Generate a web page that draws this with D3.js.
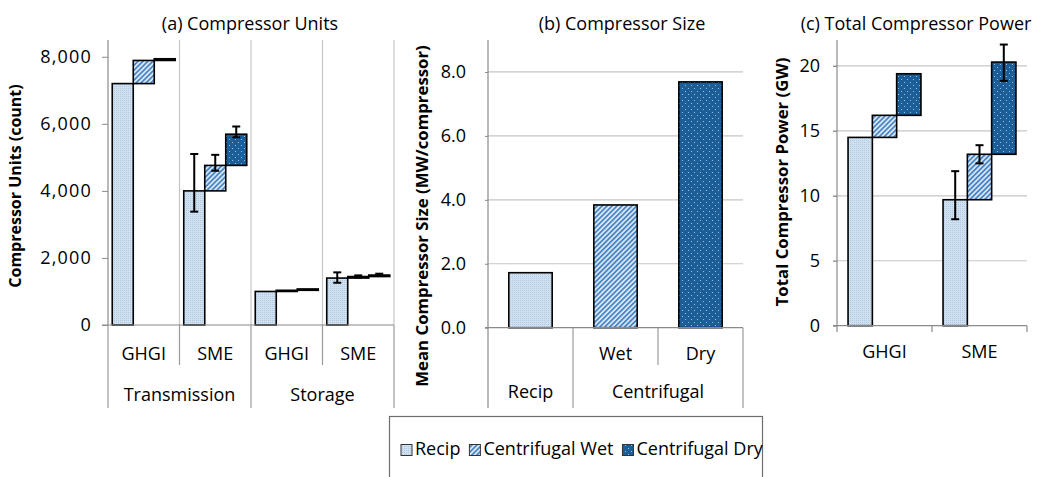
<!DOCTYPE html>
<html><head><meta charset="utf-8">
<script src="https://cdn.jsdelivr.net/npm/d3@7"></script>
<style>
body{margin:0;background:#fff}
svg{display:block}
text{font-family:"Open Sans",sans-serif;fill:#000}
</style>
</head><body>
<svg id="c" width="1037" height="477"></svg>
<script>
// ---------- data ----------
const unitCats = ["GHGI","SME","GHGI","SME"];
const unitGroups = ["Transmission","Storage"];
const unitRecip = [7200,4000,1000,1400];
const unitWet = [690,760,35,45];
const unitDry = [50,930,40,45];
const unitRecipErr = [null,[3380,5100],null,[1260,1570]];
const unitWetErr = [null,[4600,5075],null,[1420,1480]];
const unitDryErr = [null,[5600,5920],null,[1470,1530]];
const unitTicks = [0,2000,4000,6000,8000];

const sizeCats = ["Recip","Wet","Dry"];
const sizeGroups = ["Recip","Centrifugal"];
const sizeVals = [1.72,3.84,7.69];
const sizeTicks = [0,2,4,6,8];

const powerCats = ["GHGI","SME"];
const powerRecip = [14.5,9.7];
const powerWet = [1.7,3.5];
const powerDry = [3.2,7.1];
const powerRecipErr = [null,[8.2,11.9]];
const powerWetErr = [null,[12.5,13.9]];
const powerDryErr = [null,[18.85,21.65]];
const powerTicks = [0,5,10,15,20];

const seriesNames = ["Recip","Centrifugal Wet","Centrifugal Dry"];

// ---------- setup ----------
const svg = d3.select("#c");
const defs = svg.append("defs");
const pR = defs.append("pattern").attr("id","pRecip").attr("patternUnits","userSpaceOnUse").attr("width",2).attr("height",2);
pR.append("rect").attr("width",2).attr("height",2).attr("fill","#cfe0f0");
pR.append("rect").attr("width",1).attr("height",1).attr("fill","#b2c9e0");
const pW = defs.append("pattern").attr("id","pWet").attr("patternUnits","userSpaceOnUse").attr("width",3.5).attr("height",3.5).attr("patternTransform","rotate(45)");
pW.append("rect").attr("width",3.5).attr("height",3.5).attr("fill","#dce9f6");
pW.append("rect").attr("width",1.8).attr("height",3.5).attr("fill","#4a86c5");
const pD = defs.append("pattern").attr("id","pDry").attr("patternUnits","userSpaceOnUse").attr("width",6).attr("height",6);
pD.append("rect").attr("width",6).attr("height",6).attr("fill","#1b5e98");
pD.append("rect").attr("x",1).attr("y",1).attr("width",1).attr("height",1).attr("fill","#9bbcdc");
pD.append("rect").attr("x",4).attr("y",4).attr("width",1).attr("height",1).attr("fill","#9bbcdc");
const fills = ["url(#pRecip)","url(#pWet)","url(#pDry)"];

const axisCol = "#8a8a8a", gridCol = "#c6c6c6";
const FS = 18;

function styleAxis(g, ls){
  g.select(".domain").attr("stroke",axisCol).attr("stroke-width",1.2);
  g.selectAll(".tick line").attr("stroke",axisCol);
  g.selectAll(".tick text").attr("font-size",FS).attr("font-family","Open Sans, sans-serif").attr("fill","#000")
    .attr("letter-spacing",ls||0);
}
function vline(x,y1,y2,col){svg.append("line").attr("x1",x).attr("x2",x).attr("y1",y1).attr("y2",y2).attr("stroke",col).attr("stroke-width",1.2);}
function hline(y,x1,x2,col){svg.append("line").attr("x1",x1).attr("x2",x2).attr("y1",y).attr("y2",y).attr("stroke",col).attr("stroke-width",1.2);}
function label(x,y,t,opts={}){
  const e = svg.append("text").attr("x",x).attr("y",y).attr("text-anchor",opts.anchor||"middle").attr("font-size",opts.size||FS).text(t);
  if(opts.bold) e.attr("font-weight","bold");
  if(opts.rotate) e.attr("transform",`rotate(-90,${x},${y})`);
  return e;
}
function errBar(cx,y1,y2){
  const g = svg.append("g").attr("stroke","#000").attr("stroke-width",2);
  g.append("line").attr("x1",cx).attr("x2",cx).attr("y1",y1).attr("y2",y2);
  g.append("line").attr("x1",cx-4).attr("x2",cx+4).attr("y1",y1).attr("y2",y1);
  g.append("line").attr("x1",cx-4).attr("x2",cx+4).attr("y1",y2).attr("y2",y2);
}
function waterfall(x, y, n, series, errs, bw){
  for(let i=0;i<n;i++){
    let base = 0;
    const inset = (x.bandwidth()-3*bw)/2;
    series.forEach((s,k)=>{
      const v = s[i];
      const x0 = x(i)+inset+k*bw;
      svg.append("rect").attr("x",x0).attr("y",y(base+v)).attr("width",bw)
        .attr("height",Math.max(0.5,y(base)-y(base+v))).attr("fill",fills[k])
        .attr("stroke","#000").attr("stroke-width",1.6);
      base += v;
    });
  }
  for(let i=0;i<n;i++){
    const inset = (x.bandwidth()-3*bw)/2;
    errs.forEach((e,k)=>{
      if(e[i]) errBar(x(i)+inset+k*bw+bw/2, y(e[i][1]), y(e[i][0]));
    });
  }
}

// ---------- Panel (a) ----------
{
  const x = d3.scaleBand().domain(d3.range(unitCats.length)).range([108,394]);
  const y = d3.scaleLinear().domain([0,8500]).range([325,40]);
  for(let i=1;i<=unitCats.length;i++) vline(x(0)+i*x.bandwidth(),40,325,gridCol);
  waterfall(x,y,unitCats.length,[unitRecip,unitWet,unitDry],[unitRecipErr,unitWetErr,unitDryErr],21);
  const g = svg.append("g").attr("transform","translate(108,0)")
    .call(d3.axisLeft(y).tickValues(unitTicks).tickSize(6).tickPadding(10).tickFormat(d3.format(",")));
  styleAxis(g, 1.2);
  g.select(".domain").attr("d","M-0,40V325");
  hline(325,102,394,axisCol);
  const bwid = x.bandwidth();
  for(let i=0;i<=unitCats.length;i++){
    const xx = x(0)+i*bwid;
    vline(xx,325,(i%2===0)?408:365,"#9a9a9a");
  }
  unitCats.forEach((c,i)=>label(x(i)+bwid/2,360,c));
  unitGroups.forEach((gname,j)=>label(x(0)+(2*j+1)*bwid,401,gname));
  label(250,30,"(a) Compressor Units");
  label(21,186,"Compressor Units (count)",{bold:true,rotate:true,size:16});
}

// ---------- Panel (b) ----------
{
  const x = d3.scaleBand().domain(sizeCats).range([488,743]);
  const y = d3.scaleLinear().domain([0,9]).range([327.7,40]);
  sizeTicks.filter(t=>t>0).forEach(t=>hline(y(t),488,743,gridCol));
  const bw = x.bandwidth()*0.51;
  sizeCats.forEach((c,i)=>{
    svg.append("rect").attr("x",x(c)+(x.bandwidth()-bw)/2).attr("y",y(sizeVals[i]))
      .attr("width",bw).attr("height",y(0)-y(sizeVals[i])).attr("fill",fills[i])
      .attr("stroke","#000").attr("stroke-width",1.6);
  });
  const g = svg.append("g").attr("transform","translate(488,0)")
    .call(d3.axisLeft(y).tickValues(sizeTicks).tickSize(3).tickPadding(19).tickFormat(d3.format(".1f")));
  styleAxis(g);
  g.select(".domain").attr("d","M-0,40V408");
  hline(y(0),485,743,axisCol);
  const bwid = x.bandwidth();
  vline(x("Wet"),y(0),408,"#9a9a9a");
  vline(x("Dry"),y(0),365,"#9a9a9a");
  vline(743,y(0),408,"#9a9a9a");
  label(x("Wet")+bwid/2,360,"Wet");
  label(x("Dry")+bwid/2,360,"Dry");
  label(x("Recip")+bwid/2,398,sizeGroups[0]);
  label(x("Dry"),398,sizeGroups[1]);
  label(622,30,"(b) Compressor Size");
  label(428,216,"Mean Compressor Size (MW/compressor)",{bold:true,rotate:true,size:16.8});
}

// ---------- Panel (c) ----------
{
  const x = d3.scaleBand().domain(d3.range(powerCats.length)).range([837,1027]);
  const y = d3.scaleLinear().domain([0,22]).range([325.7,40]);
  powerTicks.filter(t=>t>0).forEach(t=>hline(y(t),833,1027,gridCol));
  waterfall(x,y,powerCats.length,[powerRecip,powerWet,powerDry],[powerRecipErr,powerWetErr,powerDryErr],24.3);
  const g = svg.append("g").attr("transform","translate(837,0)")
    .call(d3.axisLeft(y).tickValues(powerTicks).tickSize(4).tickPadding(13));
  styleAxis(g);
  g.select(".domain").attr("d","M-0,40V325.7");
  hline(325.7,833,1027,axisCol);
  for(let i=0;i<=powerCats.length;i++) vline(837+i*x.bandwidth(),325.7,332,axisCol);
  powerCats.forEach((c,i)=>label(x(i)+x.bandwidth()/2,358,c));
  label(916,30,"(c) Total Compressor Power");
  label(788,182,"Total Compressor Power (GW)",{bold:true,rotate:true,size:16.8});
}

// ---------- Legend ----------
{
  svg.append("rect").attr("x",389.5).attr("y",416.5).attr("width",373).attr("height",70)
    .attr("fill","#fff").attr("stroke","#6e6e6e").attr("stroke-width",1.2);
  let xx = 401;
  seriesNames.forEach((n,k)=>{
    svg.append("rect").attr("x",xx).attr("y",444.5).attr("width",11).attr("height",11)
      .attr("fill",fills[k]).attr("stroke","#333").attr("stroke-width",1);
    const t = label(xx+14,455,n,{anchor:"start"});
    xx = xx+14+t.node().getComputedTextLength()+9;
  });
}
</script>
</body></html>
